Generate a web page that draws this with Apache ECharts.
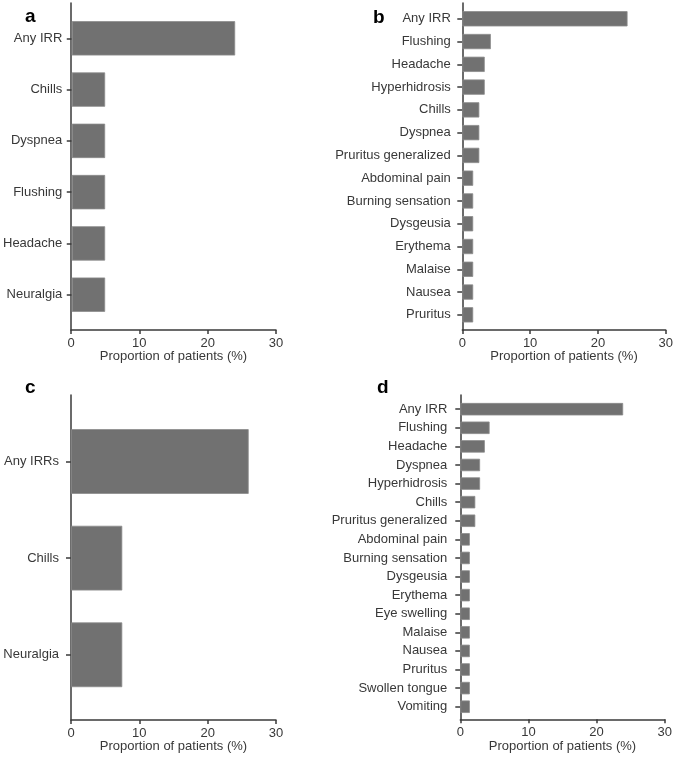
<!DOCTYPE html>
<html>
<head>
<meta charset="utf-8">
<script src="https://cdn.jsdelivr.net/npm/echarts@6/dist/echarts.min.js"></script>
<style>
html,body{margin:0;padding:0;background:#fff;}
#chart{width:676px;height:766px;}
</style>
</head>
<body>
<div id="chart"></div>
<script>
// ---- data ----
var xTicks = [0, 10, 20, 30];
var axisTitle = 'Proportion of patients (%)';
var panelLetters = ['a', 'b', 'c', 'd'];

var catsA = ['Any IRR', 'Chills', 'Dyspnea', 'Flushing', 'Headache', 'Neuralgia'];
var valsA = [24.0, 4.9, 4.9, 4.9, 4.9, 4.9];

var catsB = ['Any IRR', 'Flushing', 'Headache', 'Hyperhidrosis', 'Chills', 'Dyspnea',
  'Pruritus generalized', 'Abdominal pain', 'Burning sensation', 'Dysgeusia',
  'Erythema', 'Malaise', 'Nausea', 'Pruritus'];
var valsB = [24.3, 4.2, 3.3, 3.3, 2.5, 2.5, 2.5, 1.6, 1.6, 1.6, 1.6, 1.6, 1.6, 1.6];

var catsC = ['Any IRRs', 'Chills', 'Neuralgia'];
var valsC = [26.0, 7.5, 7.5];

var catsD = ['Any IRR', 'Flushing', 'Headache', 'Dyspnea', 'Hyperhidrosis', 'Chills',
  'Pruritus generalized', 'Abdominal pain', 'Burning sensation', 'Dysgeusia',
  'Erythema', 'Eye swelling', 'Malaise', 'Nausea', 'Pruritus', 'Swollen tongue', 'Vomiting'];
var valsD = [23.9, 4.3, 3.6, 2.9, 2.9, 2.2, 2.2, 1.4, 1.4, 1.4, 1.4, 1.4, 1.4, 1.4, 1.4, 1.4, 1.4];

// ---- layout (pixels) ----
var panels = [
  { cats: catsA, vals: valsA, left: 71,    width: 205,   frameTop: 3,   frameH: 327,   dataTop: 12.7,  dataH: 307.6, labMargin: 9.5, letter: { left: 25,  top: 7 } },
  { cats: catsB, vals: valsB, left: 462.3, width: 204,   frameTop: 3,   frameH: 327,   dataTop: 7.4,   dataH: 318.8, labMargin: 11.5, letter: { left: 373, top: 8 } },
  { cats: catsC, vals: valsC, left: 71,    width: 205,   frameTop: 395, frameH: 325,   dataTop: 413.2, dataH: 289.9, labMargin: 12,  letter: { left: 25,  top: 378 } },
  { cats: catsD, vals: valsD, left: 460.3, width: 204.4, frameTop: 395, frameH: 324.3, dataTop: 399.9, dataH: 316.1, labMargin: 13,  letter: { left: 377, top: 378 } }
];

var FONT = 'Liberation Sans, Arial, sans-serif';
var TXT = '#383838';
var AX = '#3a3a3a';
var BAR = '#717171';

var option = {
  animation: false,
  backgroundColor: '#fff',
  textStyle: { fontFamily: FONT },
  title: [], grid: [], xAxis: [], yAxis: [], series: []
};

panels.forEach(function (p, i) {
  var fg = 2 * i, dg = 2 * i + 1;
  option.title.push({
    text: panelLetters[i], left: p.letter.left, top: p.letter.top, padding: 0,
    textStyle: { fontFamily: FONT, fontSize: 19, fontWeight: 'bold', color: '#000' }
  });
  option.grid.push({ left: p.left, top: p.frameTop, width: p.width, height: p.frameH, containLabel: false });
  option.grid.push({ left: p.left, top: p.dataTop, width: p.width, height: p.dataH, containLabel: false });

  // frame axes (axis lines, x ticks, labels, name)
  option.xAxis.push({
    type: 'value', gridIndex: fg, min: xTicks[0], max: xTicks[xTicks.length - 1],
    interval: xTicks[1] - xTicks[0],
    axisLine: { show: true, onZero: false, lineStyle: { color: AX, width: 1.5 } },
    axisTick: { show: true, length: 4, lineStyle: { color: AX, width: 1.5 } },
    axisLabel: { show: true, fontSize: 13, color: TXT, margin: 6.5, fontFamily: FONT },
    splitLine: { show: false },
    name: axisTitle, nameLocation: 'middle', nameGap: 20,
    nameTextStyle: { fontSize: 13, color: TXT, fontFamily: FONT }
  });
  option.yAxis.push({
    type: 'value', gridIndex: fg, min: 0, max: 1,
    axisLine: { show: true, onZero: false, lineStyle: { color: AX, width: 1.5 } },
    axisTick: { show: false }, axisLabel: { show: false }, splitLine: { show: false }
  });

  // data axes
  option.xAxis.push({
    type: 'value', gridIndex: dg, min: xTicks[0], max: xTicks[xTicks.length - 1], show: false
  });
  option.yAxis.push({
    type: 'category', gridIndex: dg, inverse: true, data: p.cats,
    axisLine: { show: false },
    axisTick: { show: true, alignWithLabel: true, length: 5, lineStyle: { color: AX, width: 1.5 } },
    axisLabel: { show: true, fontSize: 13, color: TXT, margin: p.labMargin, fontFamily: FONT, interval: 0 },
    splitLine: { show: false }
  });

  option.series.push({
    type: 'bar', xAxisIndex: dg, yAxisIndex: dg, data: p.vals,
    barCategoryGap: '33%',
    itemStyle: { color: BAR, borderColor: '#8c8c8c', borderWidth: 0.8 },
    silent: true
  });
});

var chart = echarts.init(document.getElementById('chart'), null, { renderer: 'canvas' });
chart.setOption(option);
</script>
</body>
</html>
